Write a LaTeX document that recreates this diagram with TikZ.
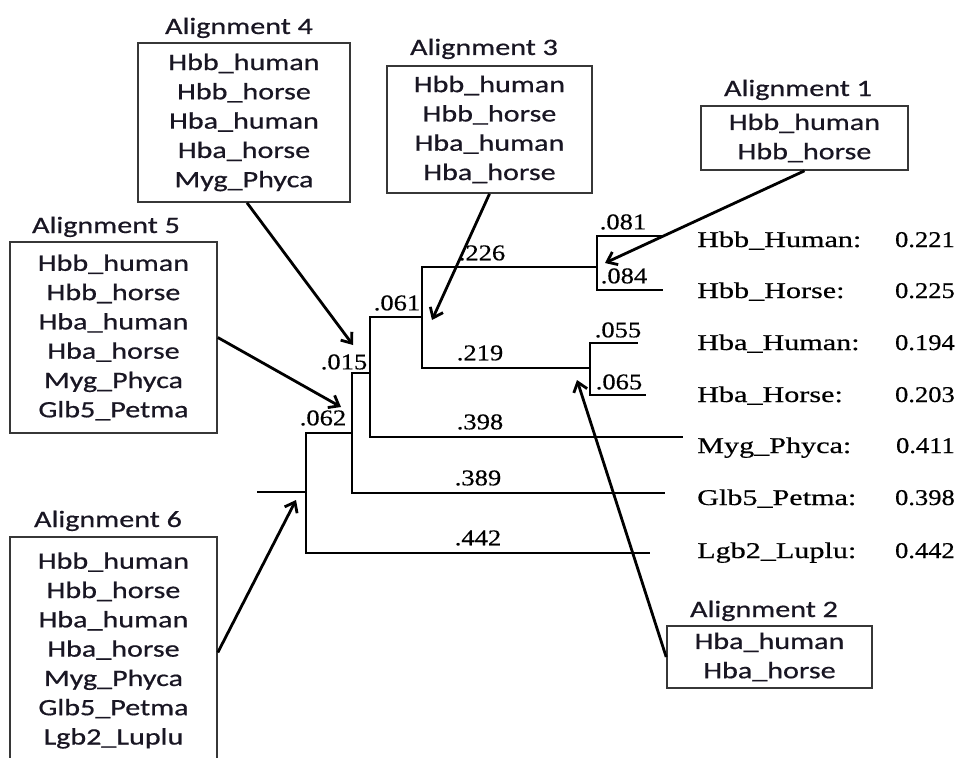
\documentclass[tikz,border=0pt]{standalone}
\usepackage{fontspec}
\usetikzlibrary{arrows.meta}
\newfontfamily\boxfont[FakeStretch=1.28,FakeBold=0.6]{Carlito}
\newfontfamily\treefont[FakeStretch=1.34,FakeBold=0.5]{Liberation Serif}
\newfontfamily\valfont[FakeStretch=1.18,FakeBold=0.5]{Liberation Serif}
\definecolor{ink}{RGB}{25,22,35}
\definecolor{frame}{RGB}{55,55,55}
\begin{document}
\begin{tikzpicture}[x=1pt,y=-1pt,
  alnbox/.style={draw=frame,line width=1.6pt,align=center,inner sep=0pt,
    font=\boxfont\fontsize{23.5}{29.3}\selectfont,text=ink},
  alntitle/.style={anchor=base,inner sep=0pt,font=\boxfont\fontsize{23.5}{29}\selectfont,text=ink},
  branch/.style={line width=2.8pt,line join=miter},
  blen/.style={inner sep=0pt,font=\valfont\fontsize{22.5}{26}\selectfont},
  leaf/.style={anchor=base west,inner sep=0pt,font=\treefont\fontsize{22.5}{26}\selectfont},
  dist/.style={anchor=base east,inner sep=0pt,font=\valfont\fontsize{22.5}{26}\selectfont},
  pointer/.style={line width=2.8pt,-{Straight Barb[length=9pt,width=14pt]}}]
\useasboundingbox (0,0) rectangle (960,757);
\fill[white] (0,0) rectangle (960,757);
\begin{scope}
\clip (0,0) rectangle (960,757);

% ---- tree: branch points and tips ----
\coordinate (stub) at (257,492);
\coordinate (r)  at (306,492);
\coordinate (i1) at (352,433);
\coordinate (i2) at (370,373);
\coordinate (i3) at (422,317);
\coordinate (i4) at (597,267);
\coordinate (i5) at (590,368);
\coordinate (tHbbHu) at (665,236);
\coordinate (tHbbHo) at (663,290);
\coordinate (tHbaHu) at (638,343);
\coordinate (tHbaHo) at (646,395);
\coordinate (tMyg) at (683,437);
\coordinate (tGlb) at (665,493);
\coordinate (tLgb) at (650,553);

\draw[branch] (stub) -- (r);
\draw[branch] (r) |- (i1);
\draw[branch] (r) |- (tLgb);
\draw[branch] (i1) |- (i2);
\draw[branch] (i1) |- (tGlb);
\draw[branch] (i2) |- (i3);
\draw[branch] (i2) |- (tMyg);
\draw[branch] (i3) |- (i4);
\draw[branch] (i3) |- (i5);
\draw[branch] (i4) |- (tHbbHu);
\draw[branch] (i4) |- (tHbbHo);
\draw[branch] (i5) |- (tHbaHu);
\draw[branch] (i5) |- (tHbaHo);

% ---- branch lengths ----
\node[blen] (l081) at (623,222) {.081};
\node[blen] (l084) at (624,276) {.084};
\node[blen] (l226) at (482,253) {.226};
\node[blen] (l061) at (397,303) {.061};
\node[blen] (l219) at (480,353) {.219};
\node[blen] (l055) at (618,330) {.055};
\node[blen] (l065) at (619,382) {.065};
\node[blen] (l015) at (344,362) {.015};
\node[blen] (l062) at (323,418) {.062};
\node[blen] (l398) at (480,422) {.398};
\node[blen] (l389) at (478,478) {.389};
\node[blen] (l442) at (478,538) {.442};

% ---- leaf names and distances ----
\node[leaf] (nHbbHu) at (697,247) {Hbb\_Human:};
\node[leaf] (nHbbHo) at (697,298) {Hbb\_Horse:};
\node[leaf] (nHbaHu) at (697,350) {Hba\_Human:};
\node[leaf] (nHbaHo) at (697,402) {Hba\_Horse:};
\node[leaf] (nMyg)   at (697,453) {Myg\_Phyca:};
\node[leaf] (nGlb)   at (697,505) {Glb5\_Petma:};
\node[leaf] (nLgb)   at (697,558) {Lgb2\_Luplu:};
\node[dist] (vHbbHu) at (955,247) {0.221};
\node[dist] (vHbbHo) at (955,298) {0.225};
\node[dist] (vHbaHu) at (955,350) {0.194};
\node[dist] (vHbaHo) at (955,402) {0.203};
\node[dist] (vMyg)   at (955,453) {0.411};
\node[dist] (vGlb)   at (955,505) {0.398};
\node[dist] (vLgb)   at (955,558) {0.442};

% ---- alignment boxes ----
\node[alnbox,minimum width=212pt,minimum height=159pt] (b4) at (244,122.5)
  {Hbb\_human\\Hbb\_horse\\Hba\_human\\Hba\_horse\\Myg\_Phyca};
\node[alntitle] (t4) at (239,34) {Alignment 4};

\node[alnbox,minimum width=205pt,minimum height=127pt] (b3) at (489.5,129.5)
  {Hbb\_human\\Hbb\_horse\\Hba\_human\\Hba\_horse};
\node[alntitle] (t3) at (484,55) {Alignment 3};

\node[alnbox,minimum width=207pt,minimum height=64pt] (b1) at (804.5,138)
  {Hbb\_human\\Hbb\_horse};
\node[alntitle] (t1) at (798,96) {Alignment 1};

\node[alnbox,minimum width=207pt,minimum height=191pt] (b5) at (113.5,337.5)
  {Hbb\_human\\Hbb\_horse\\Hba\_human\\Hba\_horse\\Myg\_Phyca\\Glb5\_Petma};
\node[alntitle] (t5) at (106,233) {Alignment 5};

\node[alnbox,minimum width=207pt,minimum height=227pt] (b6) at (113.5,650.5)
  {Hbb\_human\\Hbb\_horse\\Hba\_human\\Hba\_horse\\Myg\_Phyca\\Glb5\_Petma\\Lgb2\_Luplu};
\node[alntitle] (t6) at (108,527) {Alignment 6};

\node[alnbox,minimum width=205pt,minimum height=62pt] (b2) at (769.5,657)
  {Hba\_human\\Hba\_horse};
\node[alntitle] (t2) at (764,617) {Alignment 2};

% ---- pointers from alignments to the tree ----
\coordinate (p1) at (605,263);
\coordinate (p2) at (577,380);
\coordinate (p3) at (432,320);
\coordinate (p4) at (353,345);
\coordinate (p5) at (341,407);
\coordinate (p6) at (296,500);

\draw[pointer] (b1.south) -- (p1);
\draw[pointer] (b2.west) -- (p2);
\draw[pointer] (b3.south) -- (p3);
\draw[pointer] ([xshift=3pt]b4.south) -- (p4);
\draw[pointer] (b5.east) -- (p5);
\draw[pointer] ([yshift=-2pt]b6.east) -- (p6);
\end{scope}
\end{tikzpicture}
\end{document}
